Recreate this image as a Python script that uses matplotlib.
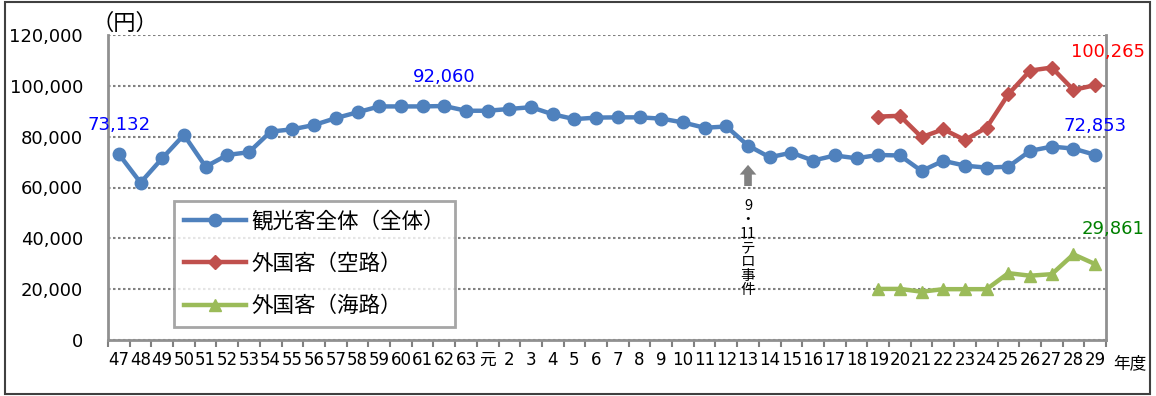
import numpy as np
import matplotlib.pyplot as plt
from matplotlib.patches import Rectangle

plt.rcParams['font.family'] = ['DejaVu Sans', 'Noto Sans CJK JP']

# 年度 (昭和47〜63, 平成元〜29)
years = [str(y) for y in range(47, 64)] + ['元'] + [str(y) for y in range(2, 30)]

# 観光客全体（全体） 一人当たり消費額
total = [73132, 61900, 71500, 80700, 68200, 72800, 73900, 82000, 82900, 84600,
         87300, 89600, 91900, 91900, 91900, 92060, 90200, 90200, 90900, 91600,
         88800, 86900, 87500, 87600, 87600, 87100, 85600, 83500, 84000, 76500,
         71900, 73700, 70600, 72600, 71500, 72800, 72600, 66500, 70500, 68600,
         67800, 68200, 74400, 76100, 75300, 72853]

# 外国客 (平成19〜29)
foreign_years = [str(y) for y in range(19, 30)]
foreign_air = [87900, 88200, 79800, 82900, 78700, 83600, 96700, 106000, 107200,
               98400, 100265]
foreign_sea = [20100, 20100, 19000, 20000, 20000, 20000, 26300, 25300, 25900,
               33700, 29861]

x_total = np.arange(len(years))
x_foreign = np.array([years.index(y) for y in foreign_years])

blue = '#4F81BD'
red = '#C0504D'
green = '#9BBB59'

fig = plt.figure(figsize=(11.56, 3.96), dpi=100)
ax = fig.add_axes([108 / 1156, 1 - 340 / 396, 998 / 1156, 305 / 396])

ax.plot(x_total, total, color=blue, lw=3.2, marker='o', ms=9,
        label='観光客全体（全体）')
ax.plot(x_foreign, foreign_air, color=red, lw=3.2, marker='D', ms=7.5,
        label='外国客（空路）')
ax.plot(x_foreign, foreign_sea, color=green, lw=3.2, marker='^', ms=9,
        label='外国客（海路）')

ax.set_xlim(-0.5, len(years) - 0.5)
ax.set_ylim(0, 120000)
ax.set_yticks(np.arange(0, 120001, 20000))
ax.set_yticklabels([f'{v:,}' for v in range(0, 120001, 20000)], fontsize=13)
ax.set_xticks(x_total)
ax.set_xticklabels(years, fontsize=12)
ax.set_xticks(np.arange(-0.5, len(years)), minor=True)
ax.tick_params(axis='x', which='major', length=0, pad=8)
ax.tick_params(axis='x', which='minor', length=5, width=1.5, color='#808080')
ax.tick_params(axis='y', length=0, pad=18)

ax.grid(axis='y', linestyle=(0, (1.2, 1.2)), color='#808080', lw=1.5)
ax.set_axisbelow(True)
for side in ['left', 'bottom', 'right']:
    ax.spines[side].set_color('#909090')
    ax.spines[side].set_linewidth(2)
ax.spines['top'].set_visible(False)

# 値ラベル
label_kw = dict(textcoords='offset points', ha='center', va='center',
                fontsize=13, annotation_clip=False)
ax.annotate(f'{total[0]:,}', (x_total[0], total[0]), xytext=(0, 21),
            color='blue', **label_kw)
i_max = int(np.argmax(total))
ax.annotate(f'{total[i_max]:,}', (x_total[i_max], total[i_max]), xytext=(0, 21),
            color='blue', **label_kw)
ax.annotate(f'{total[-1]:,}', (x_total[-1], total[-1]), xytext=(0, 21),
            color='blue', **label_kw)
ax.annotate(f'{foreign_air[-1]:,}', (x_foreign[-1], foreign_air[-1]),
            xytext=(9, 24), color='red', **label_kw)
ax.annotate(f'{foreign_sea[-1]:,}', (x_foreign[-1], foreign_sea[-1]),
            xytext=(13, 25), color='#008000', **label_kw)

# 9・11テロ事件
i911 = years.index('13')
ax.annotate('', xy=(i911, 70000), xytext=(i911, 59500),
            arrowprops=dict(arrowstyle='simple,head_length=0.7,head_width=1.2,tail_width=0.55',
                            color='#808080', lw=0))
ax.text(i911, 55500, '9\n・\n11\nテ\nロ\n事\n件', ha='center', va='top',
        fontsize=10.5, linespacing=1.0, family=['Noto Sans CJK JP'])

leg = ax.legend(loc='lower left', bbox_to_anchor=(0.066, 0.043),
                borderaxespad=0, handlelength=2.9,
                labelspacing=0.95, fancybox=False, frameon=True,
                borderpad=0.45, handletextpad=0.25,
                prop={'family': ['Noto Sans CJK JP'], 'size': 15.5})
leg.get_frame().set_edgecolor('#909090')
leg.get_frame().set_linewidth(2)

fig.text(125 / 1156, 1 - 23 / 396, '（円）', ha='center', va='center',
         fontsize=16, family=['Noto Sans CJK JP'])
fig.text(1130 / 1156, 1 - 364 / 396, '年度', ha='center', va='center',
         fontsize=12, family=['Noto Sans CJK JP'])

fig.patches.append(Rectangle((5 / 1156, 2 / 396), 1145 / 1156, 392 / 396,
                             transform=fig.transFigure, fill=False,
                             edgecolor='#404040', lw=1.5))

fig.savefig('out.png', dpi=100)
